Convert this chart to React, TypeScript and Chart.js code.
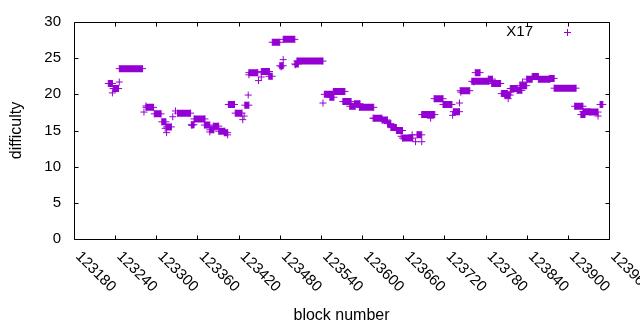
import React, { useEffect, useRef } from 'react';
import { Chart, registerables } from 'chart.js';

Chart.register(...registerables);

const seriesName = 'X17';
const xTitle = 'block number';
const yTitle = 'difficulty';
const xTicks = [123180, 123240, 123300, 123360, 123420, 123480, 123540, 123600, 123660, 123720, 123780, 123840, 123900, 123960];
const yTicks = [0, 5, 10, 15, 20, 25, 30];

// runs of consecutive blocks at (roughly) the same difficulty
const runStart = [123230, 123237, 123246, 123285, 123297, 123308, 123315, 123331, 123351, 123355, 123370, 123378, 123383, 123391, 123399, 123405, 123415, 123429, 123435, 123453, 123464, 123469, 123480, 123485, 123502, 123505, 123545, 123553, 123558, 123572, 123582, 123589, 123596, 123617, 123629, 123637, 123642, 123650, 123659, 123680, 123687, 123705, 123718, 123733, 123743, 123760, 123765, 123784, 123789, 123803, 123808, 123816, 123826, 123830, 123840, 123848, 123857, 123873, 123880, 123910, 123919, 123922, 123932, 123947];
const runEnd = [123236, 123245, 123280, 123296, 123307, 123314, 123322, 123350, 123355, 123371, 123378, 123384, 123391, 123400, 123404, 123414, 123425, 123435, 123448, 123465, 123469, 123480, 123485, 123502, 123507, 123543, 123557, 123559, 123575, 123584, 123590, 123597, 123617, 123629, 123637, 123642, 123650, 123659, 123674, 123687, 123706, 123718, 123731, 123742, 123757, 123785, 123772, 123790, 123802, 123812, 123816, 123826, 123833, 123840, 123848, 123857, 123874, 123880, 123912, 123922, 123925, 123932, 123944, 123951];
const runValue = [21.5, 20.8, 23.55, 18.2, 17.3, 16.2, 15.5, 17.4, 15.8, 16.6, 15.75, 15.1, 15.6, 14.9, 14.7, 18.6, 17.4, 18.5, 23.0, 23.15, 22.5, 27.2, 23.95, 27.6, 24.2, 24.6, 20.0, 19.6, 20.4, 19.0, 18.35, 18.7, 18.2, 16.7, 16.45, 15.95, 15.4, 15.0, 13.95, 14.4, 17.2, 19.4, 18.6, 17.6, 20.5, 21.8, 23.0, 22.1, 21.5, 20.1, 19.9, 20.8, 20.55, 21.2, 22.1, 22.45, 22.1, 22.2, 20.85, 18.35, 17.2, 17.6, 17.55, 18.6];

// isolated blocks
const singleBlock = [123236, 123246, 123282, 123285, 123313, 123315, 123324, 123328, 123352, 123378, 123404, 123426, 123428, 123434, 123435, 123449, 123453, 123482, 123485, 123503, 123543, 123616, 123657, 123673, 123678, 123687, 123700, 123732, 123742, 123744, 123763, 123813, 123817, 123834, 123944];
const singleValue = [20.2, 21.7, 17.55, 18.4, 15.3, 14.7, 16.9, 17.7, 15.7, 14.8, 14.4, 16.5, 17.0, 19.9, 22.7, 21.9, 22.4, 23.8, 24.8, 24.1, 18.8, 16.7, 14.2, 14.4, 13.45, 13.45, 16.7, 17.1, 18.8, 20.3, 21.7, 19.4, 20.3, 21.7, 17.0];

const COLOR = '#9400D3';
const FAMILY = '"Liberation Sans", Arial, sans-serif';
const FSIZE = 15;
const FONT = `${FSIZE}px ${FAMILY}`;
const TITLE_FONT = `16px ${FAMILY}`;

const framePlugin = {
  id: 'gnuframe',
  afterDraw(chart: any) {
    const ctx = chart.ctx;
    const a = chart.chartArea;
    const xs = chart.scales.x;
    const ys = chart.scales.y;
    const L = Math.round(a.left) + 0.5;
    const R = Math.round(a.right) + 0.5;
    const T = Math.round(a.top) + 0.5;
    const B = Math.round(a.bottom) + 0.5;
    ctx.save();
    ctx.strokeStyle = '#000';
    ctx.lineWidth = 1;
    ctx.beginPath();
    ctx.rect(L, T, R - L, B - T);
    for (const v of yTicks) {
      const y = Math.round(ys.getPixelForValue(v)) + 0.5;
      ctx.moveTo(L, y); ctx.lineTo(L + 4, y);
      ctx.moveTo(R, y); ctx.lineTo(R - 4, y);
    }
    for (const v of xTicks) {
      const x = Math.round(xs.getPixelForValue(v)) + 0.5;
      ctx.moveTo(x, B); ctx.lineTo(x, B - 4);
      ctx.moveTo(x, T); ctx.lineTo(x, T + 4);
    }
    ctx.stroke();

    ctx.fillStyle = '#000';
    ctx.font = FONT;
    ctx.textAlign = 'left';
    ctx.textBaseline = 'alphabetic';
    for (const v of xTicks) {
      const x = xs.getPixelForValue(v);
      ctx.save();
      ctx.translate(x + 1, a.bottom + 18);
      ctx.rotate(Math.PI / 4);
      ctx.fillText(String(v), 0, 0);
      ctx.restore();
    }
    ctx.font = TITLE_FONT;
    ctx.textAlign = 'center';
    ctx.textBaseline = 'middle';
    ctx.fillText(xTitle, (a.left + a.right) / 2, 316);
    ctx.save();
    ctx.translate(17, (a.top + a.bottom) / 2);
    ctx.rotate(-Math.PI / 2);
    ctx.fillText(yTitle, 0, 0);
    ctx.restore();
    ctx.font = FONT;
    ctx.textAlign = 'right';
    ctx.fillText(seriesName, 533, 32);
    ctx.strokeStyle = COLOR;
    ctx.beginPath();
    ctx.moveTo(564, 32.5); ctx.lineTo(571, 32.5);
    ctx.moveTo(567.5, 29); ctx.lineTo(567.5, 36);
    ctx.stroke();
    ctx.restore();
  },
};

export default function App() {
  const ref = useRef<HTMLCanvasElement | null>(null);
  useEffect(() => {
    if (!ref.current) return;
    const runData: any[] = [];
    for (let i = 0; i < runStart.length; i++) {
      runData.push({ x: runStart[i], y: runValue[i] });
      runData.push({ x: runEnd[i], y: runValue[i] });
      runData.push({ x: runEnd[i], y: null });
    }
    const singles = singleBlock.map((b, i) => ({ x: b, y: singleValue[i] }));
    const chart = new Chart(ref.current, {
      type: 'scatter',
      data: {
        datasets: [
          {
            label: seriesName,
            data: runData,
            showLine: true,
            spanGaps: false,
            borderColor: COLOR,
            borderWidth: 7,
            borderCapStyle: 'butt',
            pointStyle: 'cross',
            pointRadius: 3.5,
            pointBorderWidth: 1,
            pointBorderColor: COLOR,
            pointBackgroundColor: COLOR,
          } as any,
          {
            label: seriesName,
            data: singles,
            showLine: false,
            pointStyle: 'cross',
            pointRadius: 3.5,
            pointBorderWidth: 1,
            pointBorderColor: COLOR,
            pointBackgroundColor: COLOR,
          } as any,
        ],
      },
      options: {
        animation: false,
        responsive: false,
        events: [],
        layout: { padding: { top: 19, right: 31, left: 0, bottom: 0 } },
        plugins: { legend: { display: false }, tooltip: { enabled: false } },
        scales: {
          x: {
            type: 'linear',
            min: 123180,
            max: 123960,
            afterFit: (s: any) => { s.height = 91; },
            ticks: { display: false, stepSize: 60 },
            grid: { display: false, drawTicks: false },
            border: { display: false },
          },
          y: {
            min: 0,
            max: 30,
            afterFit: (s: any) => { s.width = 74; },
            ticks: { stepSize: 5, padding: 13, color: '#000', font: { family: FAMILY, size: FSIZE } },
            grid: { display: false, drawTicks: false },
            border: { display: false },
          },
        },
      } as any,
      plugins: [framePlugin],
    });
    return () => chart.destroy();
  }, []);
  return (
    <div style={{ position: 'absolute', left: 0, top: 0, width: 640, height: 330, background: '#fff' }}>
      <canvas ref={ref} width={640} height={330} style={{ display: 'block' }} />
    </div>
  );
}
